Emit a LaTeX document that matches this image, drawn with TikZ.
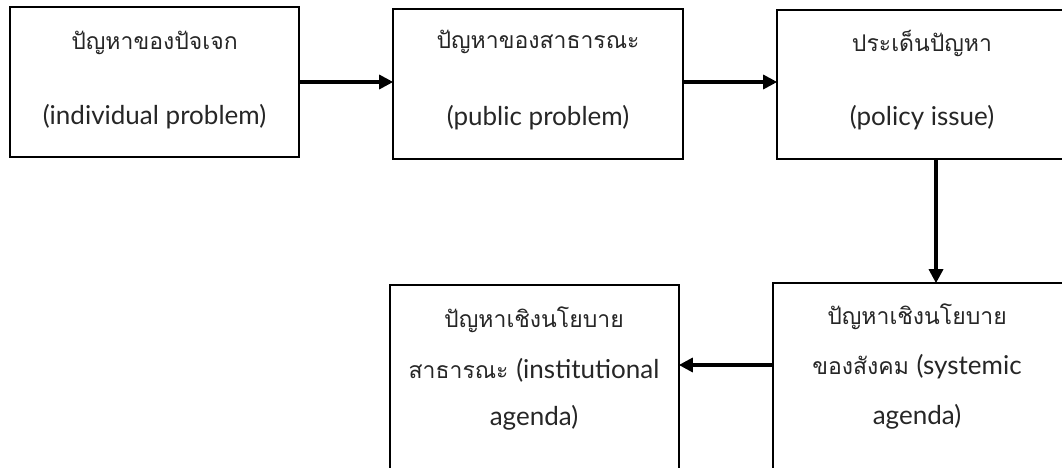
\documentclass[tikz,border=0pt]{standalone}
\usepackage{fontspec}
\setmainfont[Script=Thai]{Loma}
\newfontfamily\latfont{Lato}
\newcommand{\lat}[1]{{\latfont\fontsize{26}{30}\selectfont #1}}
\usetikzlibrary{arrows.meta}
\begin{document}
\begin{tikzpicture}[x=1pt,y=-1pt,
  box/.style={draw,line width=1.6pt,inner sep=0pt,minimum width=#1},
  txt/.style={inner sep=0pt,text=black!85,font=\fontsize{23}{27}\selectfont},
  conn/.style={line width=3.2pt,-{Triangle[length=14pt,width=14pt]},shorten >=-1pt}]
\useasboundingbox (0,0) rectangle (1062,468);
\clip (0,0) rectangle (1062,468);
\node[box=289pt,minimum height=150pt] (b1) at (154.5,82) {};
\node[box=290pt,minimum height=150pt] (b2) at (538,84) {};
\node[box=293pt,minimum height=149pt] (b3) at (923.5,84.5) {};
\node[box=297pt,minimum height=217pt] (b4) at (921.5,391.5) {};
\node[box=289pt,minimum height=215pt] (b5) at (534.5,392.5) {};
\node[txt] (t1a) at (154.5,43) {ปัญหาของปัจเจก};
\node[txt] (t1b) at (154.5,117) {\lat{(individual problem)}};
\node[txt] (t2a) at (538,42) {ปัญหาของสาธารณะ};
\node[txt] (t2b) at (538,118) {\lat{(public problem)}};
\node[txt] (t3a) at (922,43) {ประเด็นปัญหา};
\node[txt] (t3b) at (922,118) {\lat{(policy issue)}};
\node[txt] (t4a) at (917,317) {ปัญหาเชิงนโยบาย};
\node[txt] (t4b) at (917,367) {ของสังคม \lat{(systemic}};
\node[txt] (t4c) at (917,417) {\lat{agenda)}};
\node[txt] (t5a) at (534,320) {ปัญหาเชิงนโยบาย};
\node[txt] (t5b) at (534,370) {สาธารณะ \lat{(institutional}};
\node[txt] (t5c) at (534,418) {\lat{agenda)}};
\coordinate (d) at (936,159);
\coordinate (h) at (773,365);
\draw[conn] (b1.east) -- (b1.east -| b2.west);
\draw[conn] (b2.east |- b1.east) -- (b1.east -| b3.west);
\draw[conn] (d) -- (d |- b4.north);
\draw[conn] (h) -- (h -| b5.east);
\end{tikzpicture}
\end{document}
